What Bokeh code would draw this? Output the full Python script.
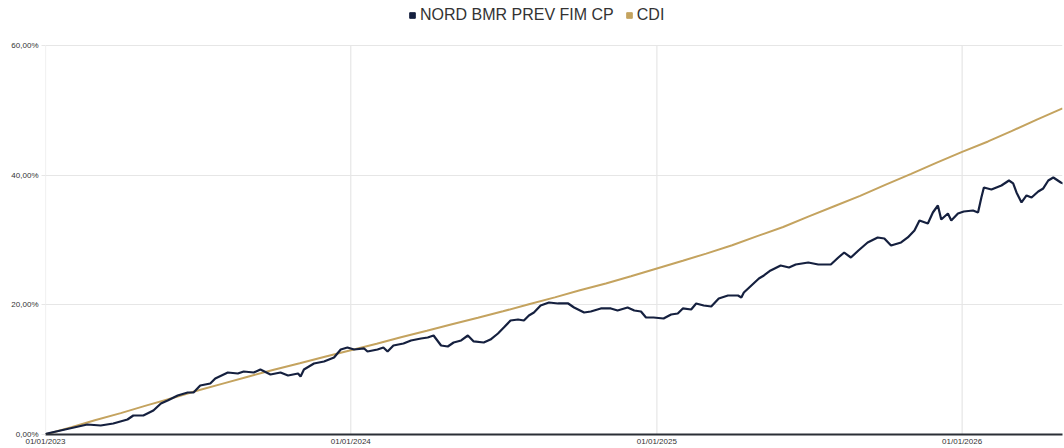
import numpy as np
import pandas as pd
from bokeh.plotting import figure
from bokeh.models import FixedTicker, Range1d, Legend, LegendItem, ColumnDataSource
from bokeh.embed import file_html
from bokeh.resources import INLINE

# ---------------- data ----------------
start_date = "2023-01-01"
end_date = "2026-05-01"

# fund: days since 2023-01-01 and cumulative return (%)
fund_day = [0, 2, 18, 34, 50, 66, 81, 98, 105, 117,
            129, 138, 146, 158, 170, 177, 185, 197, 203, 218,
            230, 237, 249, 257, 269, 281, 290, 302, 305, 309,
            321, 333, 345, 353, 361, 369, 381, 385, 397, 404,
            409, 416, 428, 437, 449, 457, 464, 473, 481, 488,
            497, 505, 512, 524, 532, 541, 548, 556, 565, 572,
            578, 584, 592, 602, 613, 625, 632, 644, 652, 664,
            676, 684, 696, 704, 712, 718, 727, 739, 748, 756,
            762, 772, 778, 787, 796, 805, 816, 828, 832, 835,
            844, 853, 859, 867, 879, 889, 897, 912, 924, 939,
            948, 955, 963, 972, 983, 995, 1003, 1011, 1023, 1031,
            1039, 1045, 1055, 1061, 1067, 1071, 1079, 1083, 1091, 1098,
            1109, 1115, 1119, 1122, 1131, 1143, 1152, 1157, 1161, 1167,
            1173, 1179, 1187, 1193, 1199, 1205, 1214, 1217]
fund_pct = [0.00, 0.15, 0.62, 1.08, 1.54, 1.39, 1.70, 2.31, 2.93, 2.93,
            3.70, 4.78, 5.24, 6.02, 6.48, 6.48, 7.56, 7.87, 8.64, 9.56,
            9.41, 9.72, 9.56, 10.03, 9.26, 9.56, 9.10, 9.41, 8.95, 10.03,
            10.95, 11.26, 11.88, 13.11, 13.42, 13.11, 13.27, 12.80, 13.11, 13.42,
            12.80, 13.73, 14.04, 14.50, 14.81, 14.96, 15.27, 13.73, 13.57, 14.19,
            14.50, 15.27, 14.35, 14.19, 14.65, 15.58, 16.50, 17.58, 17.74, 17.58,
            18.36, 18.82, 19.90, 20.36, 20.21, 20.21, 19.59, 18.82, 18.97, 19.44,
            19.44, 19.13, 19.59, 19.13, 18.97, 18.05, 18.05, 17.89, 18.51, 18.66,
            19.44, 19.28, 20.21, 19.90, 19.74, 20.98, 21.44, 21.44, 21.13, 21.90,
            22.98, 24.06, 24.53, 25.30, 26.07, 25.76, 26.22, 26.53, 26.22, 26.22,
            27.30, 28.07, 27.30, 28.38, 29.62, 30.39, 30.23, 29.15, 29.62, 30.39,
            31.47, 33.01, 32.55, 34.24, 35.32, 33.16, 34.09, 33.01, 34.09, 34.40,
            34.55, 34.24, 36.56, 38.10, 37.79, 38.41, 39.18, 38.72, 37.33, 35.79,
            36.87, 36.56, 37.48, 37.95, 39.18, 39.64, 38.87, 38.72]

# CDI: monthly cumulative (%)
cdi_dates = list(pd.date_range(start_date, end_date, freq="MS"))
cdi_pct = [0.0, 1.12, 2.2, 3.3, 4.45, 5.6, 6.75, 7.85, 8.95, 10.0, 11.0, 12.0,
           13.0, 14.0, 15.0, 16.0, 17.0, 18.0, 19.0, 20.1, 21.15, 22.25, 23.3, 24.4,
           25.6, 26.8, 27.9, 29.2, 30.6, 32.0, 33.6, 35.2, 36.8, 38.5, 40.2, 41.9,
           43.6, 45.2, 46.8, 48.6, 50.3]

series_names = ["NORD BMR PREV FIM CP", "CDI"]
series_colors = ["#15203f", "#c4a35f"]

x_tick_dates = ["2023-01-01", "2024-01-01", "2025-01-01", "2026-01-01"]
x_tick_labels = ["01/01/2023", "01/01/2024", "01/01/2025", "01/01/2026"]
y_ticks = [0, 20, 40, 60]
y_tick_labels = ["0,00%", "20,00%", "40,00%", "60,00%"]

# ---------------- figure ----------------
start = pd.Timestamp(start_date)
fund_dates = [start + pd.Timedelta(days=d) for d in fund_day]
x_tick_ts = [pd.Timestamp(d) for d in x_tick_dates]

fund_src = ColumnDataSource(dict(x=fund_dates, y=fund_pct))
cdi_src = ColumnDataSource(dict(x=cdi_dates, y=cdi_pct))

FONT = "Liberation Sans"
GRID = "#e6e6e6"

# top of value axis is 60%, frame extends above it to hold the legend
y_top = y_ticks[-1] * 434 / 389

p = figure(width=1064, height=448, x_axis_type="datetime",
           output_backend="svg", toolbar_location=None,
           x_range=Range1d(pd.Timestamp(start_date), pd.Timestamp(end_date)),
           y_range=Range1d(0, y_top),
           min_border_left=45, min_border_right=2, min_border_top=0,
           min_border_bottom=14)
p.outline_line_color = None
p.background_fill_color = "white"
p.border_fill_color = "white"

# vertical grid lines (only up to the 60% line)
p.segment(x0=x_tick_ts, y0=[y_ticks[0]] * len(x_tick_ts),
          x1=x_tick_ts, y1=[y_ticks[-1]] * len(x_tick_ts),
          line_color=GRID, line_width=1.2)

p.line("x", "y", source=cdi_src, line_color=series_colors[1], line_width=2)
p.line("x", "y", source=fund_src, line_color=series_colors[0], line_width=2.2)

# legend proxies (square markers, not drawn in the plot area)
r_leg0 = p.scatter(x=[start], y=[np.nan], marker="square",
                   color=series_colors[0], size=7)
r_leg1 = p.scatter(x=[start], y=[np.nan], marker="square",
                   color=series_colors[1], size=7)
legend = Legend(items=[LegendItem(label=series_names[0], renderers=[r_leg0]),
                       LegendItem(label=series_names[1], renderers=[r_leg1])],
                orientation="horizontal", location=(360, 409),
                padding=0, spacing=8, glyph_width=14, glyph_height=14,
                label_height=20, label_standoff=1, label_text_font=FONT,
                label_text_font_size="16px", label_text_color="#333333",
                border_line_color=None, background_fill_alpha=0)
p.add_layout(legend, "center")

# axes
x_ticks_ms = [t.value / 1e6 for t in x_tick_ts]
p.xaxis.ticker = FixedTicker(ticks=x_ticks_ms)
p.xaxis.major_label_overrides = {t: l for t, l in zip(x_ticks_ms, x_tick_labels)}
p.xaxis.axis_line_color = "#2b2f36"
p.xaxis.axis_line_width = 2
p.xaxis.major_tick_line_color = None
p.xaxis.major_tick_out = 0
p.xaxis.major_tick_in = 0
p.xaxis.minor_tick_line_color = None
p.xaxis.minor_tick_out = 0
p.xaxis.major_label_standoff = 2
p.xaxis.major_label_text_font = FONT
p.xaxis.major_label_text_font_size = "8px"
p.xaxis.major_label_text_color = "#333333"

p.yaxis.ticker = FixedTicker(ticks=y_ticks)
p.yaxis.major_label_overrides = {t: l for t, l in zip(y_ticks, y_tick_labels)}
p.yaxis.axis_line_color = None
p.yaxis.major_tick_line_color = GRID
p.yaxis.major_tick_out = 4
p.yaxis.major_tick_in = 0
p.yaxis.minor_tick_line_color = None
p.yaxis.major_label_standoff = 3
p.yaxis.major_label_text_font = FONT
p.yaxis.major_label_text_font_size = "8px"
p.yaxis.major_label_text_color = "#333333"

p.xgrid.grid_line_color = None
p.ygrid.grid_line_color = GRID
p.ygrid.grid_line_width = 1.2

open("out.html", "w").write(file_html(p, INLINE))
